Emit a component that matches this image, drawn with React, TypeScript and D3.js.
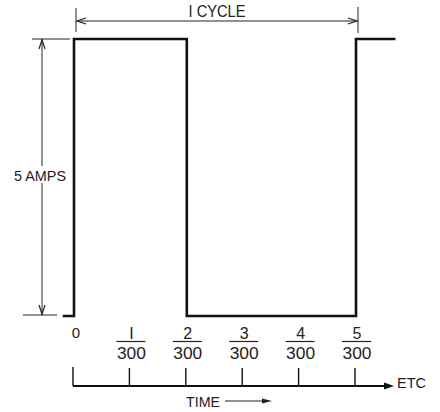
import React from "react";
import * as d3 from "d3";

// Waveform: time in units of 1/300 s, current in amps
const waveTime = [-0.2, 0, 0, 2, 2, 5, 5, 5.7];
const waveAmps = [0, 0, 5, 5, 0, 0, 5, 5];
// Time axis tick numerators (x / 300)
const tickNumerators = [0, 1, 2, 3, 4, 5];
const tickDenominator = "300";
const cycleLabel = "I CYCLE";
const ampLabel = "5 AMPS";
const timeLabel = "TIME";
const etcLabel = "ETC";
const peakAmps = 5;
const cycleStart = 0;
const cycleEnd = 5;

const W = 440;
const H = 412;
const FONT = "'Liberation Sans', Arial, sans-serif";

export default function App() {
  const x = d3.scaleLinear().domain([0, 5]).range([74, 356]);
  const y = d3.scaleLinear().domain([0, 5]).range([316, 39]);

  const pts: [number, number][] = waveTime.map((t, i) => [t, waveAmps[i]]);
  const line = d3
    .line<[number, number]>()
    .x((d) => x(d[0]))
    .y((d) => y(d[1]));

  const axisY = 386;
  const x0 = x(cycleStart);
  const x1 = x(cycleEnd);
  const dimY = 21;
  const dimX = 42;

  return (
    <svg
      width={W}
      height={H}
      viewBox={`0 0 ${W} ${H}`}
      style={{ position: "absolute", left: 0, top: 0, background: "#fff" }}
    >
      <rect x={0} y={0} width={W} height={H} fill="#fff" />

      {/* Waveform */}
      <path
        d={line(pts) || ""}
        fill="none"
        stroke="#111"
        strokeWidth={2.6}
        strokeLinejoin="miter"
      />

      {/* 1 CYCLE dimension */}
      <line x1={x0 + 2} y1={8} x2={x0 + 2} y2={32} stroke="#222" strokeWidth={1} />
      <line x1={x1 + 2} y1={7} x2={x1 + 2} y2={33} stroke="#222" strokeWidth={1} />
      <line x1={x0 + 3} y1={dimY} x2={x1 + 1} y2={dimY} stroke="#222" strokeWidth={1} />
      <polyline
        points={`${x0 + 12},${dimY - 3} ${x0 + 3},${dimY} ${x0 + 12},${dimY + 3}`}
        fill="none"
        stroke="#222"
        strokeWidth={1.2}
      />
      <polyline
        points={`${x1 - 8},${dimY - 3} ${x1 + 1},${dimY} ${x1 - 8},${dimY + 3}`}
        fill="none"
        stroke="#222"
        strokeWidth={1.2}
      />
      <text
        x={(x0 + x1) / 2 + 2}
        y={17}
        textAnchor="middle"
        fontFamily={FONT}
        fontSize={16}
        textLength={57}
        lengthAdjust="spacingAndGlyphs"
        fill="#222"
      >
        {cycleLabel}
      </text>

      {/* 5 AMPS dimension */}
      <line x1={32} y1={y(peakAmps)} x2={70} y2={y(peakAmps)} stroke="#222" strokeWidth={1} />
      <line x1={23} y1={y(0) - 1} x2={57} y2={y(0) - 1} stroke="#222" strokeWidth={1} />
      <line x1={dimX} y1={y(peakAmps)} x2={dimX} y2={y(0) - 1} stroke="#222" strokeWidth={1} />
      <polyline
        points={`${dimX - 3},${y(peakAmps) + 10} ${dimX},${y(peakAmps) + 1} ${dimX + 3},${y(peakAmps) + 10}`}
        fill="none"
        stroke="#222"
        strokeWidth={1.2}
      />
      <polyline
        points={`${dimX - 3},${y(0) - 11} ${dimX},${y(0) - 2} ${dimX + 3},${y(0) - 11}`}
        fill="none"
        stroke="#222"
        strokeWidth={1.2}
      />
      <rect x={13} y={166} width={55} height={17} fill="#fff" />
      <text
        x={14}
        y={181}
        fontFamily={FONT}
        fontSize={15}
        textLength={52}
        lengthAdjust="spacingAndGlyphs"
        fill="#222"
      >
        {ampLabel}
      </text>

      {/* Tick labels */}
      {tickNumerators.map((n) =>
        n === 0 ? (
          <text
            key={n}
            x={x(n) + 2}
            y={338}
            textAnchor="middle"
            fontFamily={FONT}
            fontSize={15}
            fill="#222"
          >
            0
          </text>
        ) : (
          <g key={n}>
            <text
              x={x(n) + 1}
              y={339}
              textAnchor="middle"
              fontFamily={FONT}
              fontSize={16}
              fill="#222"
            >
              {n === 1 ? "I" : String(n)}
            </text>
            <line
              x1={x(n) - 14}
              y1={341.5}
              x2={x(n) + 15}
              y2={341.5}
              stroke="#222"
              strokeWidth={1.2}
            />
            <text
              x={x(n) + 1}
              y={359}
              textAnchor="middle"
              fontFamily={FONT}
              fontSize={16}
              textLength={29}
              lengthAdjust="spacingAndGlyphs"
              fill="#222"
            >
              {tickDenominator}
            </text>
          </g>
        )
      )}

      {/* Time axis */}
      <line x1={x(0) - 1} y1={axisY} x2={388} y2={axisY} stroke="#111" strokeWidth={2} />
      {tickNumerators.map((n) => (
        <line
          key={"t" + n}
          x1={x(n) - 1}
          y1={n === 0 ? 367 : 368}
          x2={x(n) - 1}
          y2={axisY}
          stroke="#111"
          strokeWidth={1.4}
        />
      ))}
      <polygon
        points={`384,${axisY - 3.5} 394,${axisY} 384,${axisY + 3.5}`}
        fill="#111"
      />
      <text
        x={397}
        y={388}
        fontFamily={FONT}
        fontSize={15}
        textLength={29}
        lengthAdjust="spacingAndGlyphs"
        fill="#222"
      >
        {etcLabel}
      </text>

      {/* TIME arrow */}
      <text
        x={186}
        y={407}
        fontFamily={FONT}
        fontSize={14}
        textLength={34}
        lengthAdjust="spacingAndGlyphs"
        fill="#222"
      >
        {timeLabel}
      </text>
      <line x1={225} y1={401} x2={266} y2={401} stroke="#222" strokeWidth={1} />
      <polygon points={`262,398.5 272,401 262,403.5`} fill="#222" />
    </svg>
  );
}
